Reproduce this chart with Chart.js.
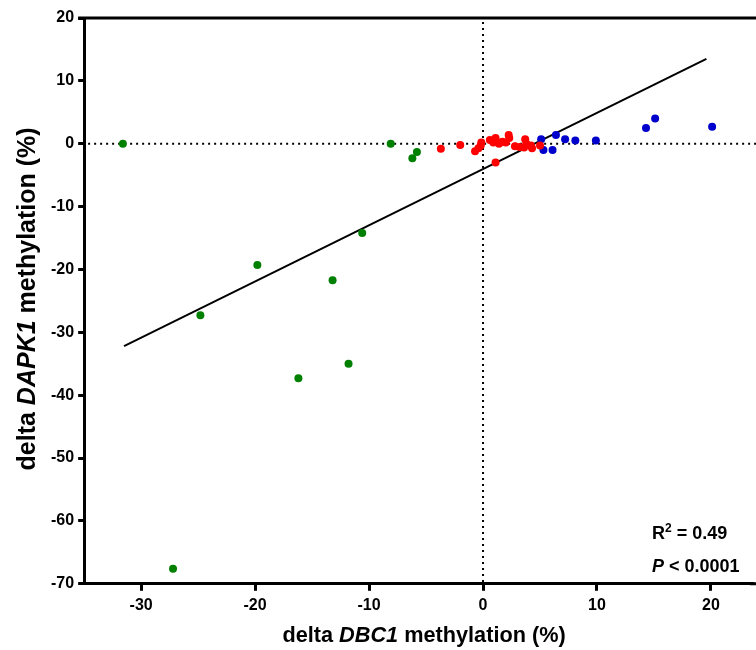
<!DOCTYPE html>
<html>
<head>
<meta charset="utf-8">
<script src="https://cdn.jsdelivr.net/npm/chart.js@4.4.0/dist/chart.umd.min.js"></script>
<style>
  body { margin: 0; background: #fff; }
  #wrap { width: 756px; height: 650px; }
</style>
</head>
<body>
<div id="wrap"><canvas id="scatter" width="756" height="650"></canvas></div>
<script>
// valeurs
const greenX = [-31.6, -8.1, -5.8, -6.2, -10.6, -19.8, -13.2, -24.8, -11.8, -16.2, -27.2];
const greenY = [0, 0, -1.3, -2.3, -14.2, -19.3, -21.7, -27.3, -35.0, -37.3, -67.6];

const redX = [-3.7, -2.0, -0.15, -0.7, -0.4, -0.2, 1.1, 0.6, 1.1, 0.9, 1.4, 1.7, 2.0, 2.25, 2.3, 2.8, 3.2, 3.7, 3.8, 4.2, 3.6, 4.3, 5.0];
const redY = [-0.8, -0.2, 0.2, -1.2, -0.7, -0.3, -3.0, 0.6, 0.9, 0.2, 0, 0.3, 0.2, 1.4, 0.9, -0.4, -0.5, 0.7, 0, -0.3, -0.6, -0.7, -0.3];

const blueX = [5.1, 5.3, 6.1, 6.4, 7.2, 8.1, 9.9, 14.3, 15.1, 20.1];
const blueY = [0.7, -1.0, -1.0, 1.4, 0.7, 0.5, 0.5, 2.5, 4.0, 2.7];

// droite de régression
const fitX = [-31.5, 19.6];
const fitY = [-32.2, 13.5];

const xTicks = [-30, -20, -10, 0, 10, 20];
const yTicks = [20, 10, 0, -10, -20, -30, -40, -50, -60, -70];

const xTitle = [['delta ', false], ['DBC1', true], [' methylation (%)', false]];
const yTitle = [['delta ', false], ['DAPK1', true], [' methylation (%)', false]];

const toPoints = (xs, ys) => xs.map((x, i) => ({ x: x, y: ys[i] }));

function drawMixed(ctx, parts, size) {
    // dessine le texte centré sur 0,0 (morceaux italiques ou non)
    let total = 0;
    parts.forEach(p => {
        ctx.font = (p[1] ? 'italic ' : '') + 'bold ' + size + 'px "Liberation Sans", Arial, sans-serif';
        total += ctx.measureText(p[0]).width;
    });
    let x = -total / 2;
    ctx.textAlign = 'left';
    ctx.textBaseline = 'middle';
    parts.forEach(p => {
        ctx.font = (p[1] ? 'italic ' : '') + 'bold ' + size + 'px "Liberation Sans", Arial, sans-serif';
        ctx.fillText(p[0], x, 0);
        x += ctx.measureText(p[0]).width;
    });
}

const decorPlugin = {
    id: 'decor',
    beforeDatasetsDraw(chart) {
        const { ctx, chartArea, scales } = chart;
        const x0 = scales.x.getPixelForValue(0);
        const y0 = scales.y.getPixelForValue(0);
        ctx.save();
        ctx.strokeStyle = '#000';
        ctx.lineWidth = 2;
        ctx.setLineDash([2, 4]);
        ctx.beginPath();
        ctx.moveTo(chartArea.left + 4, y0);
        ctx.lineTo(chart.width, y0);
        ctx.moveTo(x0, chartArea.top + 4);
        ctx.lineTo(x0, chartArea.bottom);
        ctx.stroke();
        ctx.restore();
    },
    afterDraw(chart) {
        const { ctx, chartArea } = chart;
        ctx.save();
        // bord du haut + prolongement de l'axe X jusqu'au bord
        ctx.strokeStyle = '#000';
        ctx.lineWidth = 3;
        ctx.beginPath();
        ctx.moveTo(chartArea.left - 6, chartArea.top);
        ctx.lineTo(chart.width, chartArea.top);
        ctx.moveTo(chartArea.right - 2, chartArea.bottom);
        ctx.lineTo(chart.width, chartArea.bottom);
        ctx.stroke();

        ctx.fillStyle = '#000';
        // titre X
        ctx.save();
        ctx.translate((chartArea.left + chart.width) / 2 + 4, chartArea.bottom + 52);
        drawMixed(ctx, xTitle, 21.7);
        ctx.restore();
        // titre Y
        ctx.save();
        ctx.translate(28, (chartArea.top + chartArea.bottom) / 2 - 2);
        ctx.rotate(-Math.PI / 2);
        drawMixed(ctx, yTitle, 25);
        ctx.restore();

        // R² et P
        const font = 'px "Liberation Sans", Arial, sans-serif';
        let tx = chart.width - 104;
        let ty = chartArea.bottom - 45;
        ctx.textAlign = 'left';
        ctx.textBaseline = 'alphabetic';
        ctx.font = 'bold 18' + font;
        ctx.fillText('R', tx, ty);
        tx += ctx.measureText('R').width;
        ctx.font = 'bold 12' + font;
        ctx.fillText('2', tx, ty - 7);
        tx += ctx.measureText('2').width;
        ctx.font = 'bold 18' + font;
        ctx.fillText(' = 0.49', tx, ty);

        tx = chart.width - 104;
        ty = chartArea.bottom - 12;
        ctx.font = 'italic bold 18' + font;
        ctx.fillText('P', tx, ty);
        tx += ctx.measureText('P').width;
        ctx.font = 'bold 18' + font;
        ctx.fillText(' < 0.0001', tx, ty);
        ctx.restore();
    }
};

const ctx_scatter = document.getElementById('scatter');

new Chart(ctx_scatter, {
    type: 'scatter',
    data: {
        datasets: [
            {
                label: 'Régression',
                data: toPoints(fitX, fitY),
                showLine: true,
                borderColor: '#000',
                borderWidth: 2,
                pointRadius: 0,
                order: 3
            },
            {
                label: 'Vert',
                data: toPoints(greenX, greenY),
                backgroundColor: '#008000',
                borderWidth: 0,
                pointRadius: 4,
                order: 1
            },
            {
                label: 'Rouge',
                data: toPoints(redX, redY),
                backgroundColor: '#ff0000',
                borderWidth: 0,
                pointRadius: 4,
                order: 1
            },
            {
                label: 'Bleu',
                data: toPoints(blueX, blueY),
                backgroundColor: '#0000cc',
                borderWidth: 0,
                pointRadius: 4,
                order: 1
            }
        ]
    },
    options: {
        responsive: false,
        animation: false,
        layout: { padding: { left: 47, top: 18, right: 0, bottom: 30 } },
        scales: {
            x: {
                type: 'linear',
                min: -35,
                max: 23.6,
                afterBuildTicks: scale => { scale.ticks = xTicks.map(v => ({ value: v })); },
                grid: { drawOnChartArea: false, drawTicks: true, tickLength: 7, color: '#000', lineWidth: 3 },
                border: { display: true, color: '#000', width: 3 },
                ticks: { color: '#000', padding: 5, maxRotation: 0, font: { family: '"Liberation Sans", Arial, sans-serif', size: 16, weight: 'bold' } }
            },
            y: {
                type: 'linear',
                min: -70,
                max: 20,
                afterBuildTicks: scale => { scale.ticks = yTicks.map(v => ({ value: v })); },
                grid: { drawOnChartArea: false, drawTicks: true, tickLength: 6, color: '#000', lineWidth: 3 },
                border: { display: true, color: '#000', width: 3 },
                ticks: { color: '#000', padding: 4, font: { family: '"Liberation Sans", Arial, sans-serif', size: 16, weight: 'bold' } }
            }
        },
        plugins: {
            legend: { display: false },
            tooltip: { enabled: false }
        }
    },
    plugins: [decorPlugin]
});
</script>
</body>
</html>
